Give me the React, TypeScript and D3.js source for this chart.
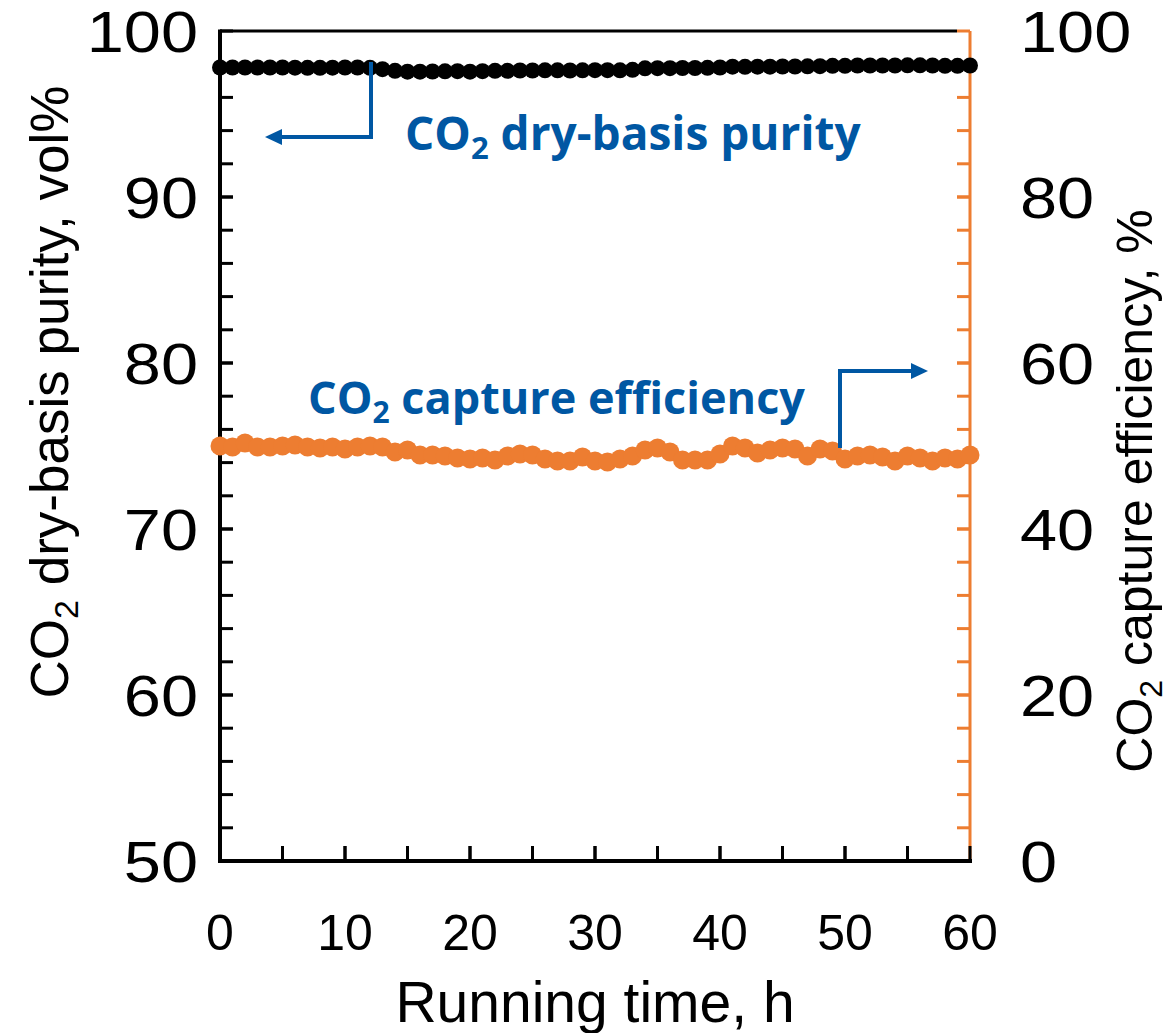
import React from "react";
import * as d3 from "d3";

const hours = d3.range(0, 61);
const purity = [
  97.8, 97.8, 97.8, 97.8, 97.8, 97.8, 97.79, 97.78, 97.78, 97.79, 97.8, 97.8, 97.78,
  97.7, 97.6, 97.55, 97.55, 97.56, 97.57, 97.58, 97.55, 97.58, 97.6, 97.6, 97.62,
  97.62, 97.63, 97.63, 97.62, 97.63, 97.64, 97.64, 97.63, 97.66, 97.75, 97.76, 97.76,
  97.77, 97.77, 97.78, 97.8, 97.85, 97.84, 97.85, 97.85, 97.86, 97.86, 97.87, 97.88,
  97.9, 97.9, 97.92, 97.92, 97.92, 97.92, 97.93, 97.93, 97.92, 97.9, 97.9, 97.92,
];
const efficiency = [
  50.0, 49.88, 50.36, 49.88, 49.88, 50.0, 50.12, 49.88, 49.76, 49.88, 49.64, 49.88, 50.0,
  49.88, 49.28, 49.52, 48.92, 48.92, 48.8, 48.55, 48.43, 48.55, 48.31, 48.8, 49.04,
  48.92, 48.43, 48.19, 48.19, 48.67, 48.19, 48.07, 48.43, 48.8, 49.52, 49.76, 49.28,
  48.31, 48.31, 48.31, 49.04, 50.0, 49.76, 49.16, 49.52, 49.76, 49.64, 48.8, 49.64,
  49.4, 48.43, 48.8, 48.92, 48.67, 48.19, 48.8, 48.55, 48.19, 48.55, 48.43, 48.92,
];
const xTicks = [0, 10, 20, 30, 40, 50, 60];
const leftTicks = [50, 60, 70, 80, 90, 100];
const rightTicks = [0, 20, 40, 60, 80, 100];

const BLACK = "#000000";
const ORANGE = "#ED7D31";
const BLUE = "#0057A3";
const FONT = "'Liberation Sans', Arial, sans-serif";
const BOLD = "'Open Sans', 'Noto Sans', sans-serif";

export default function App() {
  const W = 1176, H = 1033;
  const L = 220, R = 970, T = 31, B = 861;
  const x = d3.scaleLinear().domain([0, 60]).range([L, R]);
  const yL = d3.scaleLinear().domain([50, 100]).range([B, T]);
  const yR = d3.scaleLinear().domain([0, 100]).range([B, T]);
  const tick = 13;

  const linePur = d3.line<number>().x((_, i) => x(hours[i])).y((d) => yL(d));
  const lineEff = d3.line<number>().x((_, i) => x(hours[i])).y((d) => yR(d));

  const leftMinor = d3.range(52, 100, 2);
  const rightMinor = d3.range(4, 100, 4);
  const xMinor = d3.range(5, 60, 5);
  const yFs = 57;
  const sx = 1.17;

  return (
    <svg width={W} height={H} style={{ display: "block", position: "absolute", left: 0, top: 0 }}>
      <rect width={W} height={H} fill="#fff" />
      {/* right axis (orange) */}
      <line x1={R} x2={R} y1={T} y2={B} stroke={ORANGE} strokeWidth={3} />
      {rightMinor.concat(rightTicks).map((v) => (
        <line key={"r" + v} x1={R - tick} x2={R} y1={yR(v)} y2={yR(v)} stroke={ORANGE} strokeWidth={3} />
      ))}
      {/* top border */}
      <line x1={L} x2={R - tick} y1={T} y2={T} stroke={BLACK} strokeWidth={3} />
      {/* left axis */}
      <line x1={L} x2={L} y1={T - 1.5} y2={B + 2} stroke={BLACK} strokeWidth={4} />
      {leftMinor.concat(leftTicks).map((v) => (
        <line key={"l" + v} x1={L} x2={L + tick} y1={yL(v)} y2={yL(v)} stroke={BLACK} strokeWidth={3} />
      ))}
      {/* bottom axis */}
      <line x1={L - 2} x2={R + 2} y1={B} y2={B} stroke={BLACK} strokeWidth={4} />
      {xMinor.concat(xTicks).map((v) => (
        <line key={"x" + v} x1={x(v)} x2={x(v)} y1={B} y2={B - tick - 2} stroke={BLACK} strokeWidth={3} />
      ))}

      {/* series */}
      <path d={linePur(purity) || ""} fill="none" stroke={BLACK} strokeWidth={4} />
      {purity.map((v, i) => (
        <circle key={"p" + i} cx={x(hours[i])} cy={yL(v)} r={8} fill={BLACK} />
      ))}
      <path d={lineEff(efficiency) || ""} fill="none" stroke={ORANGE} strokeWidth={5} />
      {efficiency.map((v, i) => (
        <circle key={"e" + i} cx={x(hours[i])} cy={yR(v)} r={9.5} fill={ORANGE} />
      ))}

      {/* tick labels */}
      {leftTicks.map((v) => (
        <g key={"lt" + v} transform={`translate(198,${yL(v)}) scale(${sx},1)`}>
          <text dy="0.36em" textAnchor="end" fontFamily={FONT} fontSize={yFs} fill={BLACK}>
            {v}
          </text>
        </g>
      ))}
      {rightTicks.map((v) => (
        <g key={"rt" + v} transform={`translate(1020,${yR(v)}) scale(${sx},1)`}>
          <text dy="0.36em" textAnchor="start" fontFamily={FONT} fontSize={yFs} fill={BLACK}>
            {v}
          </text>
        </g>
      ))}
      {xTicks.map((v) => (
        <text key={"xt" + v} x={x(v)} y={950} textAnchor="middle" fontFamily={FONT} fontSize={50} fill={BLACK}>
          {v}
        </text>
      ))}

      {/* axis titles */}
      <text x={595} y={1022} textAnchor="middle" fontFamily={FONT} fontSize={57} fill={BLACK}>
        Running time, h
      </text>
      <text transform={`translate(68,392) rotate(-90)`} textAnchor="middle" fontFamily={FONT} fontSize={53} fill={BLACK}>
        CO<tspan fontSize={34} dy={10}>2</tspan><tspan dy={-10}> dry-basis purity, vol%</tspan>
      </text>
      <text transform={`translate(1152,491) rotate(-90)`} textAnchor="middle" fontFamily={FONT} fontSize={50} fill={BLACK}>
        CO<tspan fontSize={32} dy={10}>2</tspan><tspan dy={-10}> capture efficiency, %</tspan>
      </text>

      {/* annotations */}
      <text x={405} y={150} fontFamily={BOLD} fontWeight={700} fontSize={46} fill={BLUE}>
        CO<tspan fontSize={31} dy={9}>2</tspan><tspan dy={-9}> dry-basis purity</tspan>
      </text>
      <text x={308} y={414} fontFamily={BOLD} fontWeight={700} fontSize={45} fill={BLUE}>
        CO<tspan fontSize={30} dy={9}>2</tspan><tspan dy={-9}> capture efficiency</tspan>
      </text>
      <path d="M371,62 V137 H280" fill="none" stroke={BLUE} strokeWidth={4} />
      <path d="M265,137 L282,129 L282,145 Z" fill={BLUE} />
      <path d="M840,448 V371 H912" fill="none" stroke={BLUE} strokeWidth={4} />
      <path d="M928,371 L911,363 L911,379 Z" fill={BLUE} />
    </svg>
  );
}
